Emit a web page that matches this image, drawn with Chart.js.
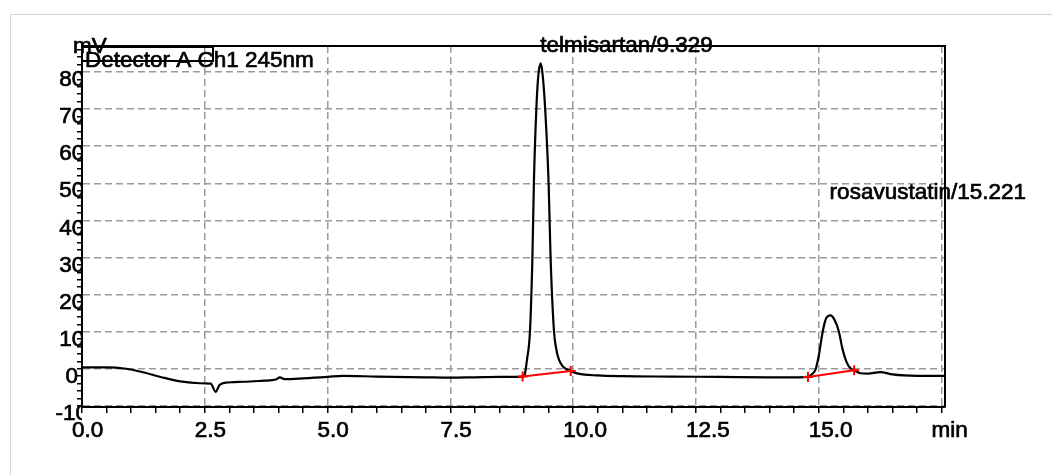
<!DOCTYPE html>
<html>
<head>
<meta charset="utf-8">
<script src="https://cdn.jsdelivr.net/npm/chart.js@4/dist/chart.umd.min.js"></script>
<style>
  html, body { margin: 0; padding: 0; background: #fff; }
  #frame { position: absolute; left: 10px; top: 14px; width: 1100px; height: 600px; border: 1px solid #d4d4d4; }
  #chart { position: absolute; left: 0; top: 0; }
</style>
</head>
<body>
<div id="frame"></div>
<canvas id="chart" width="1052" height="475"></canvas>
<script>
// chromatogram trace (min / mV)
const times = [0, 0.5, 0.9, 1.2, 1.6, 2.0, 2.4, 2.62, 2.72, 2.8, 2.9, 3.3, 3.7, 3.95, 4.03, 4.12, 4.5, 5.0, 5.3, 6.0, 7.0, 7.5, 8.0, 8.5, 8.8,
  8.97, 9.02, 9.06, 9.12, 9.17, 9.2, 9.25, 9.29, 9.34, 9.38, 9.43, 9.5, 9.54, 9.61, 9.66, 9.71, 9.78, 9.85, 9.95,
  10.1, 10.5, 11.0, 12.0, 13.0, 14.0, 14.6,
  14.78, 14.86, 14.94, 15.0, 15.08, 15.15, 15.24, 15.32, 15.41, 15.48, 15.56, 15.64, 15.72, 15.85,
  16.0, 16.25, 16.5, 16.74, 17.0, 17.57];
const signal = [0.4, 0.4, 0.0, -0.8, -2.2, -3.4, -3.9, -4.0, -6.2, -4.4, -3.8, -3.5, -3.2, -2.9, -2.3, -2.8, -2.6, -2.2, -1.9, -2.1, -2.3, -2.4, -2.3, -2.2, -2.2,
  -2.1, -1.2, 2.5, 10, 30, 50, 70, 79, 82.3, 79, 70, 50, 30, 10, 5, 2.5, 0.8, 0.0, -0.6,
  -1.3, -1.8, -2.0, -2.1, -2.2, -2.3, -2.3,
  -2.2, -1.5, 0.0, 3.5, 10, 13.6, 14.4, 13.2, 10, 5.5, 2.0, 0.2, -0.4, -1.2,
  -1.3, -0.9, -1.5, -1.8, -1.9, -1.9];

// peaks and their integration baselines
const peakNames = ['telmisartan', 'rosavustatin'];
const peakTimes = [9.329, 15.221];
const baseStartT = [8.97, 14.78];
const baseStartY = [-2.1, -2.2];
const baseEndT = [9.95, 15.72];
const baseEndY = [-0.6, -0.4];

const xUnit = 'min';
const yUnit = 'mV';
const detector = 'Detector A Ch1 245nm';

const FONT = '"Liberation Sans", Arial, sans-serif';
const FSIZE = 22.5;

function isMult(v, step) {
    return Math.abs(v / step - Math.round(v / step)) < 1e-6;
}

const trace = times.map((t, i) => ({ x: t, y: signal[i] }));

const baselines = peakNames.map((n, i) => ({
    data: [{ x: baseStartT[i], y: baseStartY[i] }, { x: baseEndT[i], y: baseEndY[i] }],
    borderColor: '#ff0000',
    borderWidth: 2,
    pointStyle: 'cross',
    pointRadius: 5,
    pointBorderWidth: 2,
    pointBorderColor: '#ff0000'
}));

/* cadre, boite du detecteur et noms des pics */
const decorations = {
    id: 'decorations',
    afterDraw(chart, args, opts) {
        const { ctx, chartArea: a, scales: { x, y } } = chart;
        ctx.save();
        ctx.strokeStyle = '#000';
        ctx.lineWidth = 2;
        ctx.beginPath();
        ctx.moveTo(a.left, a.top);
        ctx.lineTo(a.right, a.top);
        ctx.lineTo(a.right, a.bottom);
        ctx.stroke();
        ctx.strokeRect(a.left, a.top + 1, 131, 14);

        const write = (txt, tx, ty) => {
            ctx.lineWidth = 0.7;
            ctx.strokeText(txt, tx, ty);
            ctx.fillText(txt, tx, ty);
        };
        ctx.fillStyle = '#000';
        ctx.font = FSIZE + 'px ' + FONT;
        ctx.textBaseline = 'middle';
        ctx.textAlign = 'left';
        write(yUnit, a.left - 9, a.top + 1);
        write(detector, a.left + 3, a.top + 15);

        peakNames.forEach((name, i) => {
            const px = x.getPixelForValue(peakTimes[i]);
            const py = y.getPixelForValue(opts.levels[i]);
            write(name + '/' + peakTimes[i].toFixed(3), px, py);
        });
        ctx.restore();
    }
};

new Chart(document.getElementById('chart'), {
    type: 'line',
    data: {
        datasets: [
            ...baselines,
            {
                data: trace,
                borderColor: '#000',
                borderWidth: 2.2,
                pointRadius: 0,
                cubicInterpolationMode: 'monotone'
            }
        ]
    },
    options: {
        responsive: false,
        animation: false,
        devicePixelRatio: 1,
        layout: { padding: { left: 0, top: 46, right: 107, bottom: 0 } },
        plugins: {
            legend: { display: false },
            tooltip: { enabled: false },
            decorations: { levels: [87, 47.4] }
        },
        scales: {
            x: {
                type: 'linear',
                min: 0,
                max: 17.57,
                afterFit(s) { s.height = 68; },
                ticks: {
                    stepSize: 0.5,
                    includeBounds: false,
                    autoSkip: false,
                    maxRotation: 0,
                    align: 'start',
                    labelOffset: -10,
                    padding: 4,
                    color: '#000',
                    textStrokeColor: '#000',
                    textStrokeWidth: 0.7,
                    font: { family: FONT, size: FSIZE },
                    callback: v => {
                        if (Math.abs(v - 17.5) < 1e-6) return xUnit;
                        return isMult(v, 2.5) ? v.toFixed(1) : '';
                    }
                },
                grid: {
                    color: c => (c.tick && isMult(c.tick.value, 2.5)) ? '#9a9a9a' : 'rgba(0,0,0,0)',
                    lineWidth: 1.5,
                    tickColor: '#000',
                    tickLength: 6,
                    tickWidth: 1.5
                },
                border: { color: '#000', width: 2, dash: [7, 4] }
            },
            y: {
                min: -10.3,
                max: 87,
                afterFit(s) { s.width = 82; },
                ticks: {
                    stepSize: 2,
                    includeBounds: false,
                    autoSkip: false,
                    crossAlign: 'center',
                    padding: -11,
                    labelOffset: 8,
                    color: '#000',
                    textStrokeColor: '#000',
                    textStrokeWidth: 0.7,
                    font: { family: FONT, size: FSIZE },
                    callback: v => isMult(v, 10) ? String(v) : ''
                },
                grid: {
                    color: c => (c.tick && isMult(c.tick.value, 10)) ? '#9a9a9a' : 'rgba(0,0,0,0)',
                    lineWidth: 1.5,
                    tickColor: '#000',
                    tickLength: 5,
                    tickWidth: 1.5
                },
                border: { color: '#000', width: 2, dash: [7, 4] }
            }
        }
    },
    plugins: [decorations]
});
</script>
</body>
</html>
